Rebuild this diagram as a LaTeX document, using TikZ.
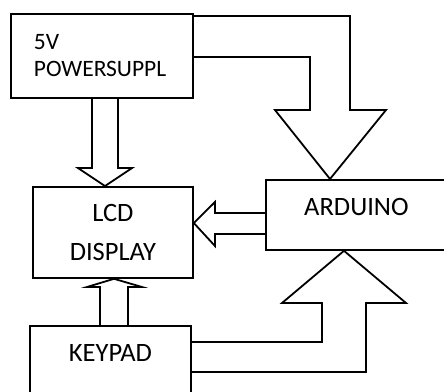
\documentclass[tikz,border=0pt]{standalone}
\usepackage{fontspec}
\setmainfont{Carlito}
\usetikzlibrary{positioning, calc}

\begin{document}
\begin{tikzpicture}[
  x=1pt, y=-1pt,
  box/.style={draw, line width=1.8pt, inner sep=0pt, anchor=north west,
              font=\fontsize{26.5}{31}\selectfont},
  blockarrow/.style={draw, line width=1.8pt, line join=miter}
]
\useasboundingbox (0,0) rectangle (444,391);
\clip (0,0) rectangle (444,391);

% blocks
\node[box, minimum width=182pt, minimum height=84pt, text width=136pt,
      inner xsep=23pt, align=left, font=\fontsize{23.5}{27}\selectfont] (power) at (10,13) {5V\\POWERSUPPL};
\node[box, minimum width=160pt, minimum height=91pt, text width=160pt,
      align=center] (lcd) at (32,186) {LCD\\[7.3pt]DISPLAY};
\node[box, minimum width=181pt, text height=36pt, text depth=34pt] (arduino) at (265,179) {ARDUINO};
\node[box, minimum width=161pt, text height=36pt, text depth=44pt] (keypad) at (29,325) {KEYPAD};

% power supply to LCD
\draw[blockarrow] (92,0 |- power.south) -- (92,168) -- (78,168) -- (105,0 |- lcd.north)
  -- (132,168) -- (118,168) -- (118,0 |- power.south);
% power supply to arduino
\draw[blockarrow] (power.east |- 0,16) -- (350,16) -- (350,110) -- (386,110)
  -- (330,0 |- arduino.north) -- (275,110) -- (310,110) -- (310,57) -- (power.east |- 0,57);
% arduino to LCD
\draw[blockarrow] (arduino.west |- 0,213) -- (215,213) -- (215,202) -- (lcd.east |- 0,223)
  -- (215,246) -- (215,234) -- (arduino.west |- 0,234);
% keypad to LCD
\draw[blockarrow] (100,0 |- keypad.north) -- (100,287) -- (87,287) -- (114,0 |- lcd.south)
  -- (142,287) -- (128,287) -- (128,0 |- keypad.north);
% keypad to arduino
\draw[blockarrow] (keypad.east |- 0,342) -- (322,342) -- (322,303) -- (282,303)
  -- (344,0 |- arduino.south) -- (406,303) -- (366,303) -- (366,372) -- (keypad.east |- 0,372);
\end{tikzpicture}
\end{document}
